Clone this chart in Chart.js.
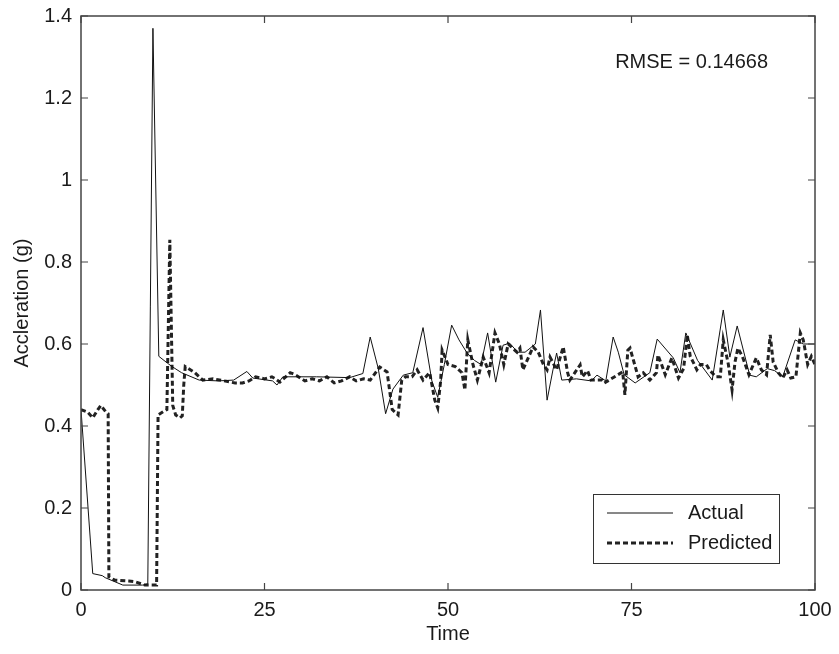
<!DOCTYPE html>
<html>
<head>
<meta charset="utf-8">
<script src="https://cdn.jsdelivr.net/npm/chart.js@4/dist/chart.umd.min.js"></script>
<style>
  html, body { margin: 0; padding: 0; background: #fff; }
  #wrap { width: 839px; height: 654px; }
</style>
</head>
<body>
<div id="wrap"><canvas id="accChart" width="839" height="654"></canvas></div>
<script>
// values
const actualX = [0, 1.6, 2.9, 3.3, 5.7, 8.4, 9.1, 9.8, 10.6, 11.8, 12.4, 13.7, 16.1, 18.7, 20.8, 22.6, 23.4, 26.1, 26.7, 27.5,
  29.2, 32.1, 36.6, 38.4, 39.4, 40.5, 41.5, 42.5, 43.9, 45.2, 46.6, 47.8, 48.6, 49.5, 50.5, 51.5, 52.6, 53.6, 54.5, 55.4,
  56.5, 57.5, 58.4, 59.5, 60.5, 61.9, 62.6, 63.5, 64.3, 64.8, 65.5, 67.5, 69.5, 70.3, 71.5, 72.5, 73.2, 74, 75.5, 77.5,
  78.5, 80.7, 81.6, 82.4, 84, 86, 87.5, 88.4, 89.4, 91.1, 92, 93.5, 94.5, 95.6, 97.3, 98.4, 100];
const actualY = [0.44, 0.04, 0.035, 0.03, 0.012, 0.012, 0.015, 1.37, 0.57, 0.553, 0.545, 0.53, 0.512, 0.51, 0.512, 0.533, 0.517, 0.51, 0.5, 0.52,
  0.52, 0.52, 0.518, 0.528, 0.617, 0.54, 0.43, 0.49, 0.524, 0.53, 0.64, 0.51, 0.47, 0.55, 0.646, 0.61, 0.578, 0.56, 0.55, 0.627,
  0.507, 0.597, 0.602, 0.58, 0.58, 0.6, 0.683, 0.463, 0.537, 0.578, 0.512, 0.515, 0.51, 0.524, 0.51, 0.617, 0.58, 0.525, 0.505, 0.53,
  0.612, 0.566, 0.53, 0.627, 0.56, 0.512, 0.683, 0.568, 0.644, 0.524, 0.52, 0.54, 0.535, 0.52, 0.61, 0.6, 0.6];

const predX = [0, 0.9, 1.6, 2.3, 2.7, 3.4, 3.7, 3.8, 4.6, 6.5, 7.4, 8.7, 10.3, 10.5, 11.2, 11.7, 12.1, 12.5, 12.9, 13.5,
  13.8, 14.0, 14.2, 15.5, 16.6, 18, 19.5, 21, 22, 22.9, 23.8, 25, 26, 26.5, 27.1, 28.5, 29.2, 30.5, 31.5, 32.5,
  33.5, 34.5, 35.5, 36.6, 37.5, 38.5, 39.4, 40.7, 41.7, 42.4, 43.2, 43.7, 44.2, 45.1, 45.8, 46.6, 47.5, 48.2, 48.6, 49.0,
  49.2, 50, 51, 51.9, 52.3, 52.7, 53.4, 54, 54.8, 55.6, 56.4, 57, 57.6, 58.2, 59.4, 59.8, 60.2, 61.6, 62.3, 63,
  63.5, 63.9, 64.8, 65.7, 66.3, 66.6, 68, 68.3, 69, 69.5, 71, 71.3, 73.8, 74.1, 74.5, 74.8, 75.9, 76.6, 77.5, 78.4,
  78.6, 79.1, 79.6, 80.5, 81.4, 82.1, 82.6, 83, 83.4, 83.9, 84.4, 85.2, 85.7, 86.5, 87.1, 87.5, 88.2, 88.7, 89.1, 89.5,
  90.1, 91, 92, 92.7, 93.4, 93.9, 94.3, 95, 95.6, 96.2, 96.7, 97.4, 98, 98.4, 99, 99.5, 100];
const predY = [0.44, 0.434, 0.42, 0.44, 0.45, 0.434, 0.43, 0.032, 0.024, 0.022, 0.02, 0.012, 0.012, 0.427, 0.435, 0.44, 0.854, 0.45, 0.427, 0.42,
  0.425, 0.5, 0.545, 0.53, 0.512, 0.515, 0.51, 0.505, 0.505, 0.51, 0.52, 0.515, 0.52, 0.515, 0.507, 0.53, 0.525, 0.51, 0.515, 0.51,
  0.52, 0.505, 0.51, 0.52, 0.51, 0.515, 0.512, 0.544, 0.532, 0.44, 0.427, 0.512, 0.52, 0.52, 0.537, 0.512, 0.53, 0.463, 0.444, 0.51,
  0.585, 0.55, 0.545, 0.53, 0.488, 0.61, 0.55, 0.512, 0.568, 0.53, 0.627, 0.6, 0.55, 0.6, 0.58, 0.59, 0.537, 0.593, 0.58, 0.55,
  0.537, 0.568, 0.537, 0.593, 0.53, 0.512, 0.549, 0.52, 0.535, 0.512, 0.512, 0.505, 0.532, 0.476, 0.585, 0.59, 0.52, 0.53, 0.512, 0.53,
  0.573, 0.55, 0.525, 0.566, 0.517, 0.54, 0.622, 0.57, 0.556, 0.537, 0.55, 0.55, 0.535, 0.52, 0.52, 0.61, 0.55, 0.488, 0.556, 0.59,
  0.57, 0.525, 0.566, 0.537, 0.525, 0.622, 0.556, 0.53, 0.517, 0.537, 0.517, 0.52, 0.627, 0.61, 0.55, 0.57, 0.55];

const xTicks = [0, 25, 50, 75, 100];
const yTicks = [0, 0.2, 0.4, 0.6, 0.8, 1, 1.2, 1.4];
const seriesNames = ['Actual', 'Predicted'];
const rmseText = 'RMSE = 0.14668';

const FONT = 'Liberation Sans, Arial, sans-serif';
const FONT_SIZE = 20;
const INK = '#1a1a1a';

const toPoints = (xs, ys) => xs.map((x, i) => ({ x, y: ys[i] }));

// MATLAB-style box with inward ticks, RMSE note and legend
const boxPlugin = {
    id: 'matlabBox',
    afterDraw(chart) {
        const { ctx, chartArea: a, scales } = chart;
        const tickLen = 7;
        ctx.save();
        ctx.strokeStyle = '#444';
        ctx.lineWidth = 1.5;
        ctx.strokeRect(a.left, a.top, a.right - a.left, a.bottom - a.top);
        ctx.lineWidth = 1.2;
        ctx.beginPath();
        xTicks.forEach(v => {
            const px = scales.x.getPixelForValue(v);
            ctx.moveTo(px, a.bottom); ctx.lineTo(px, a.bottom - tickLen);
            ctx.moveTo(px, a.top); ctx.lineTo(px, a.top + tickLen);
        });
        yTicks.forEach(v => {
            const py = scales.y.getPixelForValue(v);
            ctx.moveTo(a.left, py); ctx.lineTo(a.left + tickLen, py);
            ctx.moveTo(a.right, py); ctx.lineTo(a.right - tickLen, py);
        });
        ctx.stroke();

        // RMSE note
        ctx.fillStyle = INK;
        ctx.font = FONT_SIZE + 'px ' + FONT;
        ctx.textAlign = 'right';
        ctx.textBaseline = 'middle';
        ctx.fillText(rmseText, a.right - 47, 62);

        // legend
        const lx = 593, ly = 494, lw = 186, lh = 69;
        ctx.fillStyle = '#fff';
        ctx.fillRect(lx, ly, lw, lh);
        ctx.strokeStyle = '#333';
        ctx.lineWidth = 1;
        ctx.strokeRect(lx + 0.5, ly + 0.5, lw, lh);
        const rows = [513, 543];
        chart.data.datasets.forEach((ds, i) => {
            ctx.strokeStyle = ds.borderColor;
            ctx.lineWidth = ds.borderWidth;
            ctx.setLineDash(ds.borderDash || []);
            ctx.beginPath();
            ctx.moveTo(lx + 14, rows[i]);
            ctx.lineTo(lx + 80, rows[i]);
            ctx.stroke();
            ctx.setLineDash([]);
            ctx.fillStyle = INK;
            ctx.textAlign = 'left';
            ctx.fillText(seriesNames[i], lx + 95, rows[i]);
        });
        ctx.restore();
    }
};

new Chart(document.getElementById('accChart'), {
    type: 'line',
    data: {
        datasets: [
            {
                label: seriesNames[0],
                data: toPoints(actualX, actualY),
                borderColor: '#111',
                borderWidth: 1,
                pointRadius: 0,
                tension: 0,
            },
            {
                label: seriesNames[1],
                data: toPoints(predX, predY),
                borderColor: '#222',
                borderWidth: 3,
                borderDash: [5, 3],
                pointRadius: 0,
                tension: 0,
            }
        ]
    },
    options: {
        responsive: false,
        animation: false,
        layout: { padding: { left: 0, right: 24, top: 16, bottom: 0 } },
        plugins: { legend: { display: false }, tooltip: { enabled: false } },
        scales: {
            x: {
                type: 'linear',
                min: 0,
                max: 100,
                afterBuildTicks: s => { s.ticks = xTicks.map(v => ({ value: v })); },
                afterFit: s => { s.height = 64; },
                grid: { display: false },
                border: { display: false },
                ticks: { color: INK, font: { family: FONT, size: FONT_SIZE }, padding: 0, maxRotation: 0 },
                title: { display: true, text: 'Time', color: INK, font: { family: FONT, size: FONT_SIZE }, padding: { top: 0, bottom: 8 } }
            },
            y: {
                type: 'linear',
                min: 0,
                max: 1.4,
                afterBuildTicks: s => { s.ticks = yTicks.map(v => ({ value: v })); },
                afterFit: s => { s.width = 81; },
                grid: { display: false },
                border: { display: false },
                ticks: {
                    color: INK,
                    font: { family: FONT, size: FONT_SIZE },
                    padding: 1,
                    callback: v => String(Math.round(v * 10) / 10)
                },
                title: { display: true, text: 'Accleration (g)', color: INK, font: { family: FONT, size: FONT_SIZE }, padding: { top: 10, bottom: 0 } }
            }
        }
    },
    plugins: [boxPlugin]
});
</script>
</body>
</html>
